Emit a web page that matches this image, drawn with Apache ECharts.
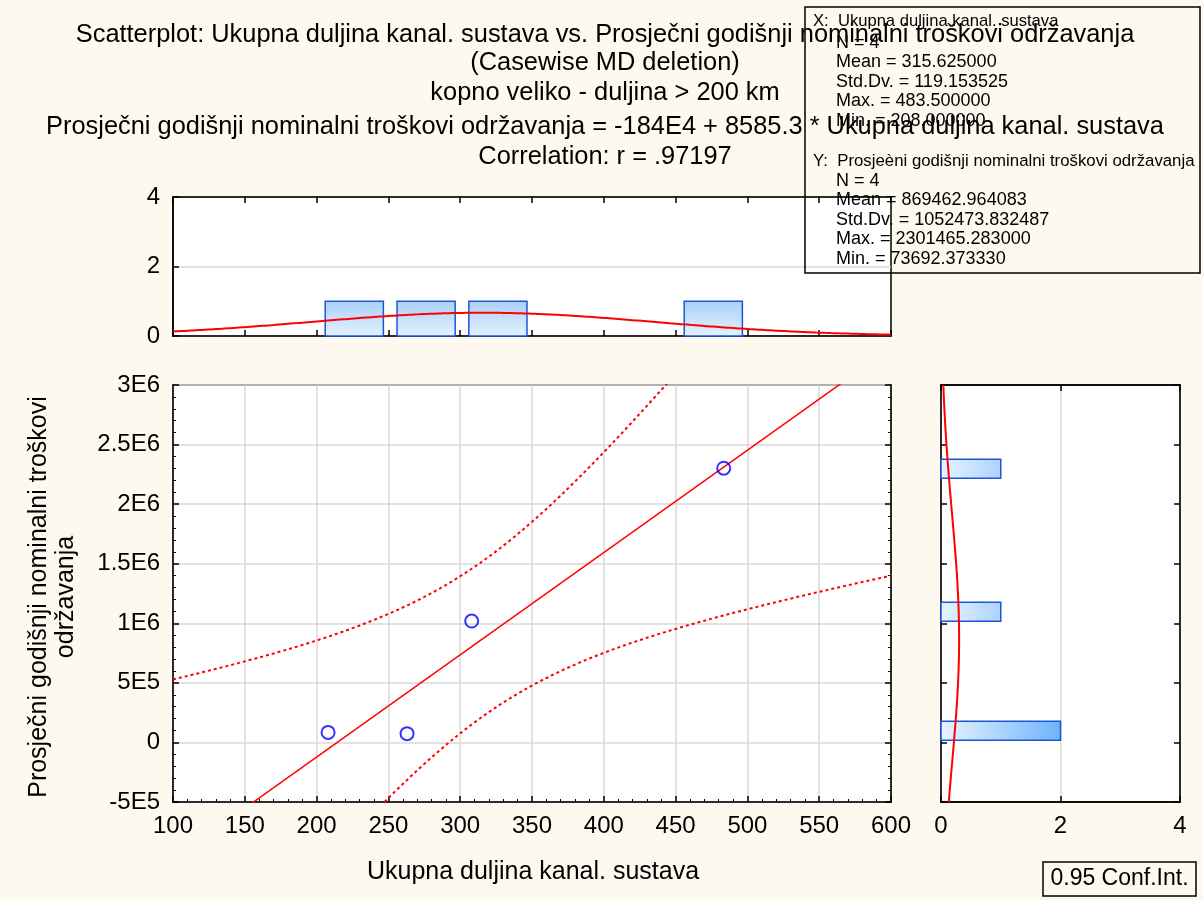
<!DOCTYPE html>
<html>
<head>
<meta charset="utf-8">
<script src="https://cdn.jsdelivr.net/npm/echarts@6/dist/echarts.min.js"></script>
<style>
  html, body { margin: 0; padding: 0; background: #fdf9ee; }
  #chart { width: 1203px; height: 900px; }
</style>
</head>
<body>
<div id="chart"></div>
<script>
// scatter points (Ukupna duljina kanal. sustava, Prosječni godišnji nominalni troškovi održavanja)
const duljina = [208, 263, 308, 483.5];
const troskovi = [84001, 73692.37333, 1018693, 2301465.283];

const yTickLabels = ['-5E5', '0', '5E5', '1E6', '1.5E6', '2E6', '2.5E6', '3E6'];

// marginal histograms
const xBinStart = [200, 250, 300, 450];
const xBinCount = [1, 1, 1, 1];
const xBinWidth = 50;
const yBinStart = [0, 1000000, 2200000];
const yBinCount = [2, 1, 1];
const yBinWidth = 200000;

const titleLines = [
    'Scatterplot: Ukupna duljina kanal. sustava vs. Prosječni godišnji nominalni troškovi održavanja',
    '(Casewise MD deletion)',
    'kopno veliko - duljina > 200 km',
    'Prosječni godišnji nominalni troškovi održavanja = -184E4 + 8585.3 * Ukupna duljina kanal. sustava',
    'Correlation: r = .97197'
];
const statsX = ['N = 4', 'Mean = 315.625000', 'Std.Dv. = 119.153525', 'Max. = 483.500000', 'Min. = 208.000000'];
const statsY = ['N = 4', 'Mean = 869462.964083', 'Std.Dv. = 1052473.832487', 'Max. = 2301465.283000', 'Min. = 73692.373330'];

const FONT = '"Liberation Sans", Arial, sans-serif';

// regression + 95% confidence band for the mean
const n = duljina.length;
const mx = duljina.reduce((a, b) => a + b, 0) / n;
const my = troskovi.reduce((a, b) => a + b, 0) / n;
let sxx = 0, sxy = 0, syy = 0;
for (let i = 0; i < n; i++) {
    sxx += (duljina[i] - mx) ** 2;
    sxy += (duljina[i] - mx) * (troskovi[i] - my);
    syy += (troskovi[i] - my) ** 2;
}
const slope = sxy / sxx;
const icpt = my - slope * mx;
const se = Math.sqrt((syy - slope * sxy) / (n - 2));
const tCrit = 4.302653;
const sdX = Math.sqrt(sxx / (n - 1));
const sdY = Math.sqrt(syy / (n - 1));

const fitLine = [[100, icpt + slope * 100], [600, icpt + slope * 600]];
const ciUp = [], ciLo = [], normX = [], normY = [];
for (let x = 100; x <= 600; x += 2) {
    const yh = icpt + slope * x;
    const h = tCrit * se * Math.sqrt(1 / n + (x - mx) ** 2 / sxx);
    ciUp.push([x, yh + h]);
    ciLo.push([x, yh - h]);
    normX.push([x, n * xBinWidth * Math.exp(-0.5 * ((x - mx) / sdX) ** 2) / (sdX * Math.sqrt(2 * Math.PI))]);
}
for (let y = -500000; y <= 3000000; y += 20000) {
    normY.push([n * yBinWidth * Math.exp(-0.5 * ((y - my) / sdY) ** 2) / (sdY * Math.sqrt(2 * Math.PI)), y]);
}

const chart = echarts.init(document.getElementById('chart'));

const border = { show: true, onZero: false, lineStyle: { color: '#000', width: 1.5 } };
const tickIn = { show: true, inside: true, length: 6, lineStyle: { color: '#000', width: 1.5 } };
const minorIn = { show: true, splitNumber: 5, length: 3, lineStyle: { color: '#000', width: 1 } };
const labelStyle = { color: '#000', fontSize: 24, fontFamily: FONT };
const gridLine = { show: true, lineStyle: { color: '#d9d9d9', width: 1.5 } };

const texts = [];
titleLines.forEach((t, i) => {
    texts.push({
        type: 'text', x: 605, y: [35, 63, 93, 127, 157][i], z: 10,
        style: { text: t, fill: '#000', font: '25.4px ' + FONT, textAlign: 'center', textVerticalAlign: 'middle' }
    });
});
texts.push({
    type: 'rect', z: 20,
    shape: { x: 805, y: 7, width: 395, height: 266 },
    style: { fill: 'none', stroke: '#000', lineWidth: 1.5 }
});
texts.push({
    type: 'text', x: 813, y: 21, z: 21,
    style: { text: 'X:  Ukupna duljina kanal. sustava', fill: '#000', font: '16.6px ' + FONT, textVerticalAlign: 'middle' }
});
statsX.forEach((t, i) => texts.push({
    type: 'text', x: 836, y: 43 + i * 19.5, z: 21,
    style: { text: t, fill: '#000', font: '18px ' + FONT, textVerticalAlign: 'middle' }
}));
texts.push({
    type: 'text', x: 813, y: 161, z: 21,
    style: { text: 'Y:  Prosjeèni godišnji nominalni troškovi održavanja', fill: '#000', font: '16.8px ' + FONT, textVerticalAlign: 'middle' }
});
statsY.forEach((t, i) => texts.push({
    type: 'text', x: 836, y: 181 + i * 19.5, z: 21,
    style: { text: t, fill: '#000', font: '18px ' + FONT, textVerticalAlign: 'middle' }
}));
texts.push({
    type: 'text', x: 533, y: 872, z: 10,
    style: { text: 'Ukupna duljina kanal. sustava', fill: '#000', font: '25px ' + FONT, textAlign: 'center', textVerticalAlign: 'middle' }
});
texts.push({
    type: 'text', x: 53, y: 597, rotation: Math.PI / 2, z: 10,
    style: { text: 'Prosječni godišnji nominalni troškovi\nodržavanja', fill: '#000', font: '25px ' + FONT, textAlign: 'center', textVerticalAlign: 'middle', lineHeight: 27 }
});
texts.push({
    type: 'rect', z: 10,
    shape: { x: 1043, y: 862, width: 153, height: 34 },
    style: { fill: 'none', stroke: '#000', lineWidth: 1.5 }
});
texts.push({
    type: 'text', x: 1119.5, y: 879, z: 11,
    style: { text: '0.95 Conf.Int.', fill: '#000', font: '23px ' + FONT, textAlign: 'center', textVerticalAlign: 'middle' }
});

chart.setOption({
    backgroundColor: '#fdf9ee',
    animation: false,
    graphic: texts,
    grid: [
        { left: 173, top: 385, width: 718, height: 417, show: true, backgroundColor: '#fff', borderColor: '#000', borderWidth: 1.5 },
        { left: 173, top: 197, width: 718, height: 139, show: true, backgroundColor: '#fff', borderColor: '#000', borderWidth: 1.5 },
        { left: 941, top: 385, width: 239, height: 417, show: true, backgroundColor: '#fff', borderColor: '#000', borderWidth: 1.5 }
    ],
    xAxis: [
        { gridIndex: 0, type: 'value', min: 100, max: 600, interval: 50, position: 'bottom',
          axisLine: border, axisTick: tickIn, minorTick: minorIn, splitLine: gridLine,
          axisLabel: Object.assign({ margin: 12 }, labelStyle) },
        { gridIndex: 1, type: 'value', min: 100, max: 600, interval: 50, position: 'bottom',
          axisLine: border, axisTick: tickIn, splitLine: { show: false }, axisLabel: { show: false } },
        { gridIndex: 1, type: 'value', min: 100, max: 600, interval: 50, position: 'top',
          axisLine: border, axisTick: tickIn, splitLine: { show: false }, axisLabel: { show: false } },
        { gridIndex: 2, type: 'value', min: 0, max: 4, interval: 2, position: 'bottom',
          axisLine: border, axisTick: tickIn, splitLine: gridLine,
          axisLabel: Object.assign({ margin: 12 }, labelStyle) },
        { gridIndex: 2, type: 'value', min: 0, max: 4, interval: 2, position: 'top',
          axisLine: border, axisTick: tickIn, splitLine: { show: false }, axisLabel: { show: false } }
    ],
    yAxis: [
        { gridIndex: 0, type: 'value', min: -500000, max: 3000000, interval: 500000, position: 'left',
          axisLine: border, axisTick: tickIn, minorTick: minorIn, splitLine: gridLine,
          axisLabel: Object.assign({ margin: 13,
              formatter: v => yTickLabels[Math.round((v + 500000) / 500000)] }, labelStyle) },
        { gridIndex: 0, type: 'value', min: -500000, max: 3000000, interval: 500000, position: 'right',
          axisLine: border, axisTick: tickIn, minorTick: minorIn, splitLine: { show: false }, axisLabel: { show: false } },
        { gridIndex: 1, type: 'value', min: 0, max: 4, interval: 2, position: 'left',
          axisLine: border, axisTick: tickIn, splitLine: gridLine,
          axisLabel: Object.assign({ margin: 13 }, labelStyle) },
        { gridIndex: 2, type: 'value', min: -500000, max: 3000000, interval: 500000, position: 'left',
          axisLine: border, axisTick: tickIn, splitLine: { show: false }, axisLabel: { show: false } },
        { gridIndex: 2, type: 'value', min: -500000, max: 3000000, interval: 500000, position: 'right',
          axisLine: border, axisTick: tickIn, splitLine: { show: false }, axisLabel: { show: false } }
    ],
    series: [
        {
            type: 'line', xAxisIndex: 0, yAxisIndex: 0, data: fitLine, showSymbol: false, clip: true,
            lineStyle: { color: '#ff0000', width: 1.5 }, silent: true, z: 3
        },
        {
            type: 'line', xAxisIndex: 0, yAxisIndex: 0, data: ciUp, showSymbol: false, clip: true,
            lineStyle: { color: '#ff0000', width: 2, type: [3, 3] }, silent: true, z: 3
        },
        {
            type: 'line', xAxisIndex: 0, yAxisIndex: 0, data: ciLo, showSymbol: false, clip: true,
            lineStyle: { color: '#ff0000', width: 2, type: [3, 3] }, silent: true, z: 3
        },
        {
            type: 'scatter', xAxisIndex: 0, yAxisIndex: 0,
            data: duljina.map((x, i) => [x, troskovi[i]]),
            symbol: 'circle', symbolSize: 13,
            itemStyle: { color: 'rgba(0,0,0,0)', borderColor: '#0000ff', borderWidth: 2 },
            z: 5
        },
        {
            type: 'custom', xAxisIndex: 1, yAxisIndex: 2,
            data: xBinStart.map((s, i) => [s, xBinCount[i]]),
            renderItem: function (params, api) {
                const s = api.value(0), c = api.value(1);
                const p0 = api.coord([s + xBinWidth * 0.12, c]);
                const p1 = api.coord([s + xBinWidth * 0.93, 0]);
                return {
                    type: 'rect',
                    shape: { x: p0[0], y: p0[1], width: p1[0] - p0[0], height: p1[1] - p0[1] },
                    style: {
                        fill: new echarts.graphic.LinearGradient(0, 0, 0, 1, [
                            { offset: 0, color: '#a8d0f9' }, { offset: 1, color: '#e6f2fe' }
                        ]),
                        stroke: '#1f55d8', lineWidth: 1.5
                    }
                };
            },
            z: 2
        },
        {
            type: 'line', xAxisIndex: 1, yAxisIndex: 2, data: normX, showSymbol: false,
            lineStyle: { color: '#ff0000', width: 2 }, silent: true, z: 3
        },
        {
            type: 'custom', xAxisIndex: 3, yAxisIndex: 3,
            data: yBinStart.map((s, i) => [yBinCount[i], s]),
            renderItem: function (params, api) {
                const c = api.value(0), s = api.value(1);
                const p0 = api.coord([0, s + yBinWidth * 0.885]);
                const p1 = api.coord([c, s + yBinWidth * 0.09]);
                const g0 = api.coord([0, 0])[0], g1 = api.coord([2, 0])[0];
                return {
                    type: 'rect',
                    shape: { x: p0[0], y: p0[1], width: p1[0] - p0[0], height: p1[1] - p0[1] },
                    style: {
                        fill: new echarts.graphic.LinearGradient(g0, 0, g1, 0, [
                            { offset: 0, color: '#e8f3ff' }, { offset: 1, color: '#6fb3fd' }
                        ], true),
                        stroke: '#1f55d8', lineWidth: 1.5
                    }
                };
            },
            z: 2
        },
        {
            type: 'line', xAxisIndex: 3, yAxisIndex: 3, data: normY, showSymbol: false,
            lineStyle: { color: '#ff0000', width: 2 }, silent: true, z: 3
        }
    ]
});
</script>
</body>
</html>
